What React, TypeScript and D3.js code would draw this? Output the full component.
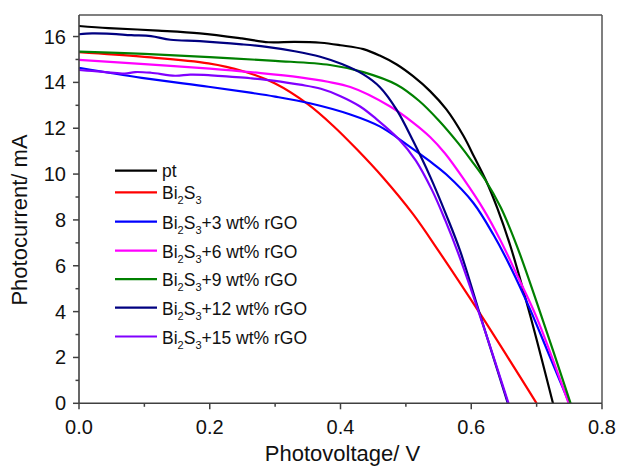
import React from "react";
import * as d3 from "d3";

const W = 617;
const H = 466;

const seriesNames = ["pt", "Bi2S3", "Bi2S3+3", "Bi2S3+6", "Bi2S3+9", "Bi2S3+12", "Bi2S3+15"];
const seriesColors = ["#000000", "#ff0000", "#0000ff", "#ff00ff", "#008000", "#000080", "#8000ff"];
const legendSuffix = ["", "", "+3 wt% rGO", "+6 wt% rGO", "+9 wt% rGO", "+12 wt% rGO", "+15 wt% rGO"];

// [voltage V, current mA]
const ptData: [number, number][] = [
  [0, 16.46], [0.045, 16.37], [0.121, 16.26], [0.185, 16.14], [0.249, 15.92], [0.29, 15.75],
  [0.33, 15.77], [0.37, 15.73], [0.4, 15.62], [0.435, 15.45], [0.46, 15.17], [0.486, 14.78],
  [0.511, 14.27], [0.537, 13.62], [0.562, 12.82], [0.588, 11.67], [0.605, 10.72], [0.622, 9.75],
  [0.64, 8.5], [0.66, 6.85], [0.69, 3.85], [0.725, 0],
];
const bi2s3Data: [number, number][] = [
  [0, 15.32], [0.096, 15.12], [0.198, 14.83], [0.25, 14.5], [0.3, 13.95], [0.35, 13.05],
  [0.389, 12.1], [0.425, 11.08], [0.465, 9.85], [0.511, 8.25], [0.55, 6.65], [0.613, 3.93], [0.7, 0],
];
const rgo3Data: [number, number][] = [
  [0, 14.64], [0.096, 14.2], [0.198, 13.81], [0.262, 13.55], [0.3, 13.38], [0.353, 13.09],
  [0.415, 12.6], [0.46, 12.08], [0.501, 11.3], [0.537, 10.55], [0.562, 9.98], [0.603, 8.75],
  [0.634, 7.35], [0.66, 5.95], [0.69, 4.1], [0.72, 2.05], [0.75, 0],
];
const rgo6Data: [number, number][] = [
  [0, 14.98], [0.1, 14.8], [0.2, 14.6], [0.262, 14.45], [0.338, 14.22], [0.415, 13.8],
  [0.476, 12.95], [0.511, 12.25], [0.537, 11.62], [0.56, 10.9], [0.588, 9.8], [0.619, 8.45],
  [0.644, 7.15], [0.67, 5.6], [0.7, 3.75], [0.749, 0],
];
const rgo9Data: [number, number][] = [
  [0, 15.34], [0.1, 15.24], [0.2, 15.1], [0.3, 14.94], [0.384, 14.76], [0.435, 14.45],
  [0.486, 13.9], [0.52, 13.2], [0.55, 12.35], [0.58, 11.35], [0.6, 10.6], [0.622, 9.72],
  [0.645, 8.55], [0.67, 6.85], [0.705, 4.0], [0.752, 0],
];
const rgo12Data: [number, number][] = [
  [0, 16.1], [0.02, 16.14], [0.05, 16.12], [0.08, 16.06], [0.11, 16.02], [0.14, 15.86],
  [0.185, 15.8], [0.249, 15.66], [0.287, 15.55], [0.33, 15.36], [0.369, 15.12], [0.402, 14.8],
  [0.435, 14.35], [0.46, 13.8], [0.486, 12.8], [0.511, 11.45], [0.537, 9.9], [0.562, 8.2],
  [0.583, 6.65], [0.613, 3.9], [0.656, 0],
];
const rgo15Data: [number, number][] = [
  [0, 14.54], [0.02, 14.5], [0.045, 14.44], [0.07, 14.38], [0.086, 14.45], [0.11, 14.42],
  [0.147, 14.29], [0.17, 14.34], [0.198, 14.32], [0.23, 14.25], [0.262, 14.18], [0.3, 14.07],
  [0.338, 13.9], [0.37, 13.72], [0.4, 13.4], [0.43, 12.95], [0.455, 12.4], [0.49, 11.5],
  [0.515, 10.6], [0.54, 9.3], [0.56, 8.0], [0.58, 6.55], [0.613, 3.85], [0.657, 0],
];
const allData = [ptData, bi2s3Data, rgo3Data, rgo6Data, rgo9Data, rgo12Data, rgo15Data];

const xMajorTicks = [0, 0.2, 0.4, 0.6, 0.8];
const xMinorTicks = [0.1, 0.3, 0.5, 0.7];
const yMajorTicks = [0, 2, 4, 6, 8, 10, 12, 14, 16];
const yMinorTicks = [1, 3, 5, 7, 9, 11, 13, 15];

const xTitle = "Photovoltage/ V";
const yTitle = "Photocurrent/ mA";

const L = 79, R = 602, T = 15, B = 403.3;
const FONT = "Liberation Sans, Arial, sans-serif";

export default function App() {
  const x = d3.scaleLinear().domain([0, 0.8]).range([L, R]);
  const y = d3.scaleLinear().domain([0, 16.94]).range([B, T]);
  const line = d3
    .line<[number, number]>()
    .x((d) => x(d[0]))
    .y((d) => y(d[1]))
    .curve(d3.curveCatmullRom.alpha(0.5));

  const axisColor = "#404040";
  const legendRows = [170.7, 192.3, 221.7, 250.7, 279.2, 307.7, 336.5];

  return (
    <svg
      width={W}
      height={H}
      style={{ position: "absolute", left: 0, top: 0, background: "#fff" }}
      fontFamily={FONT}
    >
      <rect x={0} y={0} width={W} height={H} fill="#fff" />
      {/* frame */}
      <line x1={L} y1={T} x2={R} y2={T} stroke="#555" strokeWidth={1.5} />
      <line x1={R} y1={T} x2={R} y2={B} stroke="#555" strokeWidth={1.5} />

      {/* series */}
      {allData.map((d, i) => (
        <path key={seriesNames[i]} d={line(d) || ""} fill="none" stroke={seriesColors[i]} strokeWidth={2.2} />
      ))}

      {/* axes */}
      <line x1={L} y1={B} x2={R} y2={B} stroke={axisColor} strokeWidth={1.6} />
      <line x1={L} y1={T} x2={L} y2={B} stroke={axisColor} strokeWidth={1.6} />
      {xMajorTicks.map((t) => (
        <g key={"xm" + t}>
          <line x1={x(t)} x2={x(t)} y1={B} y2={B + 6} stroke={axisColor} strokeWidth={1.5} />
          <text x={x(t)} y={434} textAnchor="middle" fontSize={20} fill="#111">
            {t.toFixed(1)}
          </text>
        </g>
      ))}
      {xMinorTicks.map((t) => (
        <line key={"xn" + t} x1={x(t)} x2={x(t)} y1={B} y2={B + 3.5} stroke={axisColor} strokeWidth={1.5} />
      ))}
      {yMajorTicks.map((t) => (
        <g key={"ym" + t}>
          <line x1={L - 6} x2={L} y1={y(t)} y2={y(t)} stroke={axisColor} strokeWidth={1.5} />
          <text x={66} y={y(t) + 7} textAnchor="end" fontSize={20} fill="#111">
            {t}
          </text>
        </g>
      ))}
      {yMinorTicks.map((t) => (
        <line key={"yn" + t} x1={L - 3.5} x2={L} y1={y(t)} y2={y(t)} stroke={axisColor} strokeWidth={1.5} />
      ))}

      {/* titles */}
      <text x={(L + R) / 2 + 2} y={461} textAnchor="middle" fontSize={22} fill="#111">
        {xTitle}
      </text>
      <text
        transform={`translate(27, 220) rotate(-90)`}
        textAnchor="middle"
        fontSize={22}
        fill="#111"
      >
        {yTitle}
      </text>

      {/* legend */}
      {seriesNames.map((name, i) => {
        const ly = legendRows[i];
        return (
          <g key={"lg" + name}>
            <line x1={115} x2={157} y1={ly} y2={ly} stroke={seriesColors[i]} strokeWidth={2.2} />
            {i === 0 ? (
              <text x={162} y={ly + 6} fontSize={17.5} fill="#111">
                pt
              </text>
            ) : (
              <text x={162} y={ly + 7} fontSize={17.5} fill="#111">
                Bi
                <tspan fontSize={11} dy={5}>2</tspan>
                <tspan dy={-5}>S</tspan>
                <tspan fontSize={11} dy={5}>3</tspan>
                <tspan dy={-5}>{legendSuffix[i]}</tspan>
              </text>
            )}
          </g>
        );
      })}
    </svg>
  );
}
